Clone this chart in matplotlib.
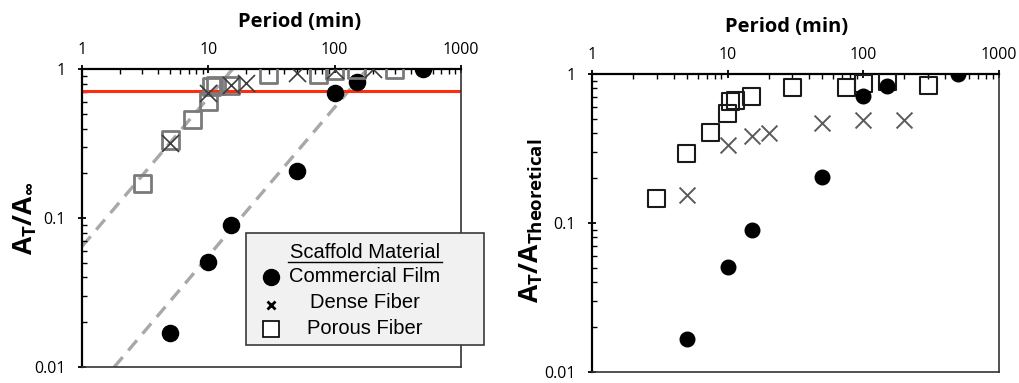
import matplotlib
matplotlib.use("Agg")
import matplotlib.pyplot as plt
import numpy as np
from matplotlib.lines import Line2D
from matplotlib.patches import Rectangle

# ---- data -------------------------------------------------------------
period_film = [5, 10, 15, 50, 100, 150, 500]
film_norm = [0.0168, 0.0508, 0.0904, 0.207, 0.693, 0.826, 1.0]
film_theor = [0.0166, 0.0506, 0.090, 0.205, 0.71, 0.83, 1.0]

period_dense = [5, 10, 15, 20, 50, 100, 200]
dense_norm = [0.318, 0.69, 0.79, 0.805, 0.94, 0.99, 1.0]
dense_theor = [0.155, 0.334, 0.384, 0.40, 0.472, 0.492, 0.492]

period_porous = [3, 5, 7.5, 10, 10.5, 11.5, 15, 30, 75, 100, 150, 300]
porous_norm = [0.171, 0.335, 0.463, 0.605, 0.764, 0.78, 0.78, 0.925, 0.916, 0.98, 1.0, 0.99]
porous_theor = [0.147, 0.291, 0.406, 0.54, 0.652, 0.66, 0.71, 0.81, 0.81, 0.857, 0.89, 0.84]

# slope-1 guide lines (A = period / tau) and the threshold level
tau_porous = 15.5
tau_film = 180.0
threshold = 0.72

xticks = [1, 10, 100, 1000]
xtick_labels = ["1", "10", "100", "1000"]
yticks = [0.01, 0.1, 1]
ytick_labels = ["0.01", "0.1", "1"]

TICK_FONT = "Open Sans"
LABEL_FONT = "Open Sans"
LEGEND_FONT = "Liberation Sans"

plt.rcParams["mathtext.fontset"] = "custom"
plt.rcParams["mathtext.bf"] = "Open Sans:bold"
plt.rcParams["mathtext.rm"] = "Open Sans"

fig = plt.figure(figsize=(10.2, 3.83), dpi=100)
W, H = 1020, 383


def px_axes(x0, y0, x1, y1):
    return fig.add_axes([x0 / W, 1 - y1 / H, (x1 - x0) / W, (y1 - y0) / H])


def style_axes(ax, tick_pad_x, tick_pad_y):
    ax.set_xscale("log")
    ax.set_yscale("log")
    ax.set_xlim(1, 1000)
    ax.set_ylim(0.01, 1)
    ax.xaxis.tick_top()
    ax.set_xticks(xticks)
    ax.set_xticklabels(xtick_labels, fontfamily=TICK_FONT, fontsize=11.5)
    ax.set_yticks(yticks)
    ax.set_yticklabels(ytick_labels, fontfamily=TICK_FONT, fontsize=11.5)
    ax.xaxis.set_minor_locator(matplotlib.ticker.LogLocator(base=10, subs=np.arange(2, 10)))
    ax.yaxis.set_minor_locator(matplotlib.ticker.LogLocator(base=10, subs=np.arange(2, 10)))
    ax.xaxis.set_minor_formatter(matplotlib.ticker.NullFormatter())
    ax.yaxis.set_minor_formatter(matplotlib.ticker.NullFormatter())
    ax.tick_params(which="major", direction="inout", length=6, width=1.3, color="black")
    ax.tick_params(which="minor", direction="in", length=3.5, width=1.0, color="black")
    ax.tick_params(axis="x", which="major", pad=tick_pad_x)
    ax.tick_params(axis="y", which="major", pad=tick_pad_y)
    ax.tick_params(axis="x", which="both", top=True, bottom=False)
    ax.tick_params(axis="y", which="both", left=True, right=False)
    for side in ("top", "left"):
        ax.spines[side].set_linewidth(1.6)
        ax.spines[side].set_color("black")
    for side in ("right", "bottom"):
        ax.spines[side].set_linewidth(1.2)
        ax.spines[side].set_color("#333333")


# ---- left panel: normalised to plateau -----------------------------------
ax1 = px_axes(82, 69.3, 461, 367)
style_axes(ax1, 5, 9)

xx = np.logspace(0, 3, 200)
dash_kw = dict(color="#a8a8a8", lw=2.4, dashes=(4, 2.6), zorder=1)
ax1.plot(xx, xx / tau_porous, **dash_kw)
ax1.plot(xx, xx / tau_film, **dash_kw)
ax1.axhline(threshold, color="#ff2d10", lw=2.2, zorder=2)

ax1.scatter(period_film, film_norm, s=135, marker="o", color="black", zorder=3)
ax1.scatter(period_porous, porous_norm, s=150, marker="s", facecolor="none",
            edgecolor="#7a7a7a", linewidth=2.0, zorder=4)
ax1.scatter(period_dense, dense_norm, s=150, marker="x", color="#3c3c3c",
            linewidth=1.2, zorder=5)

# ---- right panel: normalised to theoretical ----------------------------
ax2 = px_axes(592, 74, 999, 372)
style_axes(ax2, 5, 9)

ax2.scatter(period_porous, porous_theor, s=150, marker="s", facecolor="none",
            edgecolor="#1a1a1a", linewidth=1.5, zorder=3)
ax2.scatter(period_dense, dense_theor, s=130, marker="x", color="#5a5a5a",
            linewidth=1.4, zorder=4)
ax2.scatter(period_film, film_theor, s=110, marker="o", color="black", zorder=5)

# ---- axis titles ------------------------------------------------------
fig.text(300 / W, 1 - 21.5 / H, "Period (min)", ha="center", va="center",
         fontfamily=LABEL_FONT, fontweight="bold", fontsize=14.5)
fig.text(787 / W, 1 - 27 / H, "Period (min)", ha="center", va="center",
         fontfamily=LABEL_FONT, fontweight="bold", fontsize=14.5)

fig.text(25 / W, 1 - 218 / H, r"$\mathbf{A_{T}/A_{\infty}}$", ha="center", va="center",
         rotation=90, fontsize=19)
fig.text(531 / W, 1 - 221 / H, r"$\mathbf{A_{T}/A_{Theoretical}}$", ha="center",
         va="center", rotation=90, fontsize=19)

# ---- legend box (left panel) -------------------------------------------
lx0, ly0, lx1, ly1 = 245.7, 233.3, 484.3, 345
fig.patches.append(Rectangle((lx0 / W, 1 - ly1 / H), (lx1 - lx0) / W, (ly1 - ly0) / H,
                             transform=fig.transFigure, facecolor="#f1f1f1",
                             edgecolor="#3a3a3a", linewidth=1.2, zorder=10))

leg_cx = 365
fig.text(leg_cx / W, 1 - 253 / H, "Scaffold Material", ha="center", va="center",
         fontfamily=LEGEND_FONT, fontsize=14.5, zorder=11)
fig.lines.append(Line2D([288.5 / W, 442 / W], [1 - 262 / H, 1 - 262 / H],
                        transform=fig.transFigure, color="black", lw=1.0, zorder=11))
legend_rows = [("Commercial Film", 277), ("Dense Fiber", 302.5), ("Porous Fiber", 328)]
for label, yy in legend_rows:
    fig.text(leg_cx / W, 1 - yy / H, label, ha="center", va="center",
             fontfamily=LEGEND_FONT, fontsize=14.5, zorder=11)
fig.lines.append(Line2D([271 / W], [1 - 277 / H], transform=fig.transFigure, marker="o",
                        markersize=11.5, color="black", linestyle="none", zorder=11))
fig.lines.append(Line2D([271 / W], [1 - 305 / H], transform=fig.transFigure, marker="x",
                        markersize=5.5, markeredgewidth=2.0, color="black",
                        linestyle="none", zorder=11))
fig.lines.append(Line2D([271.5 / W], [1 - 329 / H], transform=fig.transFigure, marker="s",
                        markersize=11.5, markerfacecolor="white", markeredgecolor="black",
                        markeredgewidth=1.2, linestyle="none", zorder=11))

fig.savefig("out.png", dpi=100)
